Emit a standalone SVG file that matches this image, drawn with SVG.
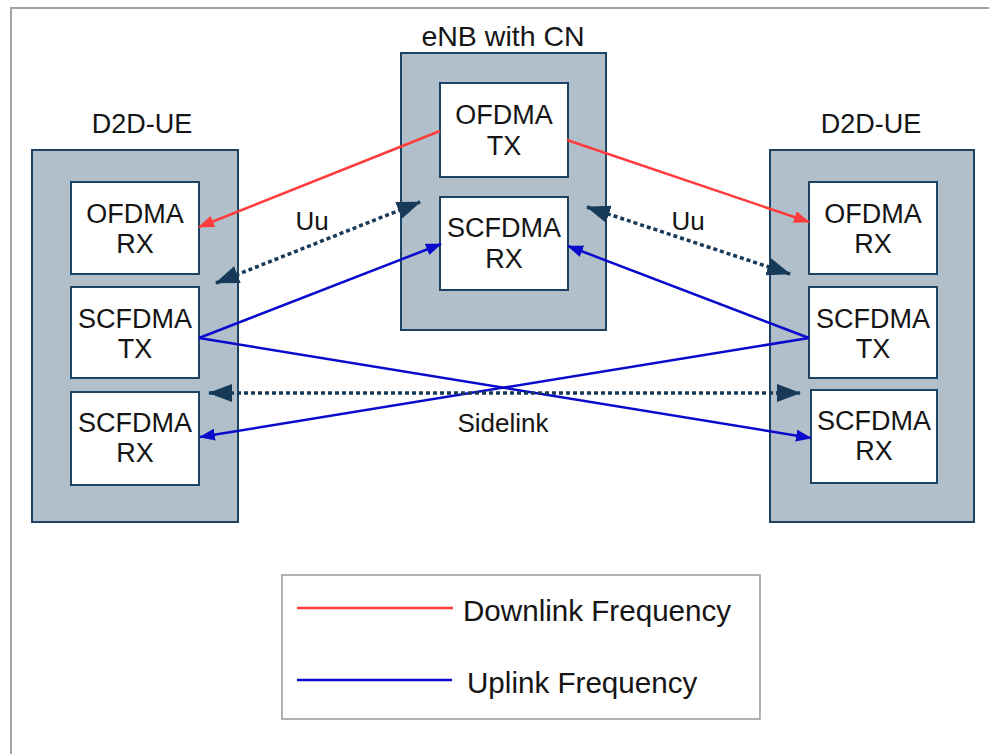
<svg xmlns="http://www.w3.org/2000/svg" width="989" height="754" viewBox="0 0 989 754">
<style>
text{font-family:"Liberation Sans",Arial,sans-serif;fill:#151515;text-anchor:middle}
.t{font-size:27px}
.h{font-size:28.5px}
.l{font-size:26px}
.g{font-size:29.6px;text-anchor:start}
.outer{fill:#b1bfca;stroke:#1d4464;stroke-width:2}
.inner{fill:#fff;stroke:#1d4464;stroke-width:2}
.red{stroke:#ff3b3b;stroke-width:2.5;fill:none}
.blue{stroke:#0a0acc;stroke-width:2.5;fill:none}
.dot{stroke:#173a58;stroke-width:3.5;fill:none;stroke-dasharray:4 3}
</style>
<defs>
<marker id="ar" markerUnits="userSpaceOnUse" markerWidth="16" markerHeight="12" refX="15" refY="6" orient="auto"><path d="M0,0 L16,6 L0,12 z" fill="#ff3b3b"/></marker>
<marker id="ab" markerUnits="userSpaceOnUse" markerWidth="16" markerHeight="12" refX="15" refY="6" orient="auto"><path d="M0,0 L16,6 L0,12 z" fill="#0a0acc"/></marker>
<marker id="ad" markerUnits="userSpaceOnUse" markerWidth="24" markerHeight="18" refX="23" refY="9" orient="auto-start-reverse"><path d="M0,0 L24,9 L0,18 z" fill="#173a58"/></marker>
</defs>
<path d="M11,754 V8 H989" fill="none" stroke="#a3a3a3" stroke-width="2"/>

<g id="ue-left">
<text class="t" x="142" y="133">D2D-UE</text>
<rect class="outer" x="32" y="150" width="206" height="372"/>
</g>
<g id="ue-left-ofdma-rx"><rect class="inner" x="71" y="182" width="128" height="92"/><text class="t" x="135" y="223">OFDMA</text><text class="t" x="135" y="253">RX</text></g>
<g id="ue-left-scfdma-tx"><rect class="inner" x="71" y="287" width="128" height="91"/><text class="t" x="135" y="328">SCFDMA</text><text class="t" x="135" y="358">TX</text></g>
<g id="ue-left-scfdma-rx"><rect class="inner" x="71" y="392" width="128" height="93"/><text class="t" x="135" y="432">SCFDMA</text><text class="t" x="135" y="462">RX</text></g>

<g id="enb">
<text class="h" x="503" y="46">eNB with CN</text>
<rect class="outer" x="401" y="53" width="205" height="277"/>
</g>
<g id="enb-ofdma-tx"><rect class="inner" x="440" y="83" width="128" height="94"/><text class="t" x="504" y="124">OFDMA</text><text class="t" x="504" y="155">TX</text></g>
<g id="enb-scfdma-rx"><rect class="inner" x="440" y="197" width="128" height="93"/><text class="t" x="504" y="237">SCFDMA</text><text class="t" x="504" y="268">RX</text></g>

<g id="ue-right">
<text class="t" x="871" y="133">D2D-UE</text>
<rect class="outer" x="770" y="150" width="204" height="372"/>
</g>
<g id="ue-right-ofdma-rx"><rect class="inner" x="809" y="182" width="128" height="92"/><text class="t" x="873" y="223">OFDMA</text><text class="t" x="873" y="253">RX</text></g>
<g id="ue-right-scfdma-tx"><rect class="inner" x="809" y="287" width="128" height="91"/><text class="t" x="873" y="328">SCFDMA</text><text class="t" x="873" y="358">TX</text></g>
<g id="ue-right-scfdma-rx"><rect class="inner" x="811" y="390" width="126" height="93"/><text class="t" x="874" y="430">SCFDMA</text><text class="t" x="874" y="460">RX</text></g>

<g id="connectors">
<line class="red" x1="440" y1="131" x2="199" y2="227" marker-end="url(#ar)"/>
<line class="red" x1="567" y1="140" x2="809" y2="222" marker-end="url(#ar)"/>
<line class="blue" x1="199" y1="338" x2="441" y2="244" marker-end="url(#ab)"/>
<line class="blue" x1="809" y1="338" x2="568" y2="246" marker-end="url(#ab)"/>
<line class="blue" x1="199" y1="338" x2="811" y2="438" marker-end="url(#ab)"/>
<line class="blue" x1="809" y1="338" x2="200" y2="437" marker-end="url(#ab)"/>
<line class="dot" x1="216" y1="283" x2="420" y2="202" marker-start="url(#ad)" marker-end="url(#ad)"/>
<line class="dot" x1="587" y1="207" x2="790" y2="274" marker-start="url(#ad)" marker-end="url(#ad)"/>
<line class="dot" x1="209" y1="393" x2="800" y2="393" marker-start="url(#ad)" marker-end="url(#ad)"/>
<text class="l" x="312" y="230">Uu</text>
<text class="l" x="688" y="230">Uu</text>
<text class="l" x="503" y="432">Sidelink</text>
</g>

<g id="legend">
<rect x="282" y="575" width="478" height="144" fill="#fff" stroke="#999" stroke-width="1.5"/>
<line x1="297" y1="608" x2="453" y2="608" stroke="#ff3b3b" stroke-width="2.5"/>
<line x1="297" y1="680" x2="452" y2="680" stroke="#0a0acc" stroke-width="2.5"/>
<text class="g" x="463" y="621">Downlink Frequency</text>
<text class="g" x="467" y="693">Uplink Frequency</text>
</g>
</svg>
